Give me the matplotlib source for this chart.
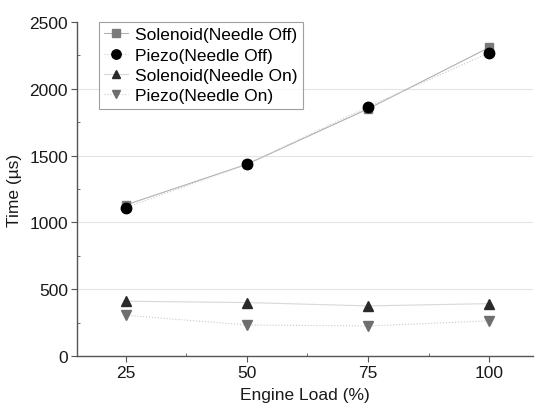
import matplotlib.pyplot as plt
from matplotlib.ticker import MultipleLocator

plt.rcParams['font.family'] = ['Liberation Sans', 'DejaVu Sans']

engineLoad = [25, 50, 75, 100]
solenoidOff = [1130, 1435, 1850, 2310]
piezoOff = [1110, 1435, 1865, 2270]
solenoidOn = [410, 400, 375, 392]
piezoOn = [305, 232, 225, 263]

fs = 12.5

fig = plt.figure(figsize=(5.37, 4.10), dpi=100)
ax = fig.add_axes([77/537, 1 - 357/410, (533 - 77)/537, (357 - 23)/410])

ax.plot(engineLoad, solenoidOff, color='#b0b0b0', lw=0.8, ls='-',
        marker='s', ms=6, mfc='#7a7a7a', mec='#7a7a7a', label='Solenoid(Needle Off)')
ax.plot(engineLoad, piezoOff, color='#c8c8c8', lw=0.8, ls=':',
        marker='o', ms=7.5, mfc='black', mec='black', label='Piezo(Needle Off)')
ax.plot(engineLoad, solenoidOn, color='#d8d8d8', lw=0.8, ls='-',
        marker='^', ms=7, mfc='#2a2a2a', mec='#2a2a2a', label='Solenoid(Needle On)')
ax.plot(engineLoad, piezoOn, color='#c8c8c8', lw=0.8, ls=':',
        marker='v', ms=7, mfc='#6e6e6e', mec='#6e6e6e', label='Piezo(Needle On)')

ax.set_xlim(15, 109)
ax.set_ylim(0, 2500)
ax.set_xticks(engineLoad)
ax.xaxis.set_minor_locator(MultipleLocator(12.5))
ax.set_yticks(range(0, 2501, 500))
ax.yaxis.set_minor_locator(MultipleLocator(250))

for y in [500, 1000, 1500, 2000]:
    ax.axhline(y, color='#e4e4e4', lw=0.8, zorder=0)

ax.spines['top'].set_visible(False)
ax.spines['right'].set_visible(False)
for s in ['left', 'bottom']:
    ax.spines[s].set_color('#555555')
    ax.spines[s].set_linewidth(1.0)

ax.tick_params(which='major', direction='out', length=4, color='#555555',
               labelsize=fs, labelcolor='#1a1a1a', pad=2.5)
ax.tick_params(which='minor', direction='in', length=2.5, color='#555555')

ax.set_xlabel('Engine Load (%)', fontsize=fs, color='#1a1a1a', labelpad=5)
ax.set_ylabel('Time (\u00b5s)', fontsize=fs, color='#1a1a1a', labelpad=5)

leg = ax.legend(loc='upper left', bbox_to_anchor=(0.048, 1.0), fontsize=fs,
                frameon=True, fancybox=False, handlelength=1.4,
                handletextpad=0.4, borderpad=0.3, labelspacing=0.3,
                borderaxespad=0.0, markerscale=0.9)
leg.get_frame().set_edgecolor('#888888')
leg.get_frame().set_linewidth(0.8)

plt.savefig('out.png', dpi=100)
